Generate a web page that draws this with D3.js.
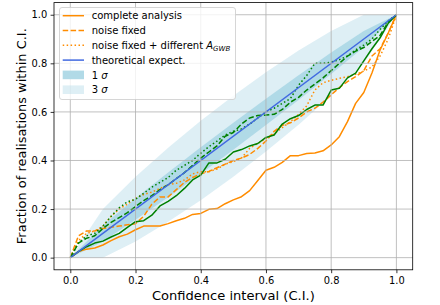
<!DOCTYPE html>
<html><head><meta charset="utf-8">
<script src="https://cdn.jsdelivr.net/npm/d3@7"></script>
<style>
body{margin:0;background:#fff}
svg{display:block}
text{font-family:"DejaVu Sans",sans-serif;fill:#000}
</style>
</head><body><svg id="c" width="440" height="305"></svg>
<script>
// ---- data ----
const ciLevels = [0,0.025,0.05,0.075,0.1,0.125,0.15,0.175,0.2,0.225,0.25,0.275,0.3,0.325,0.35,0.375,0.4,0.425,0.45,0.475,0.5,0.525,0.55,0.575,0.6,0.625,0.65,0.675,0.7,0.725,0.75,0.775,0.8,0.825,0.85,0.875,0.9,0.925,0.95,0.975,1];
const completeAnalysis = [0,0.025,0.035,0.04,0.052,0.07,0.086,0.097,0.115,0.13,0.13,0.13,0.14,0.152,0.162,0.178,0.182,0.199,0.202,0.222,0.238,0.251,0.276,0.318,0.36,0.372,0.392,0.42,0.42,0.429,0.431,0.44,0.464,0.498,0.56,0.635,0.68,0.76,0.855,0.925,1];
const noiseFixed = [0,0.09,0.11,0.11,0.12,0.125,0.13,0.135,0.14,0.17,0.22,0.25,0.25,0.28,0.31,0.33,0.345,0.355,0.37,0.385,0.4,0.41,0.425,0.45,0.48,0.52,0.545,0.555,0.575,0.6,0.615,0.64,0.67,0.7,0.725,0.745,0.77,0.83,0.86,0.925,1];
const noiseFixedDiffA = [0,0.07,0.1,0.11,0.13,0.17,0.2,0.22,0.245,0.26,0.27,0.285,0.3,0.306,0.32,0.345,0.354,0.354,0.365,0.385,0.395,0.41,0.45,0.47,0.49,0.51,0.535,0.56,0.59,0.625,0.69,0.72,0.73,0.738,0.745,0.755,0.768,0.785,0.83,0.9,1];
const greenSolid = [0,0.025,0.045,0.06,0.068,0.085,0.1,0.125,0.148,0.152,0.175,0.213,0.232,0.255,0.285,0.32,0.34,0.39,0.39,0.405,0.435,0.445,0.46,0.47,0.495,0.505,0.55,0.572,0.585,0.61,0.628,0.628,0.69,0.697,0.74,0.76,0.81,0.86,0.905,0.965,1];
const greenDashed = [0,0.06,0.08,0.09,0.12,0.145,0.165,0.185,0.21,0.235,0.255,0.28,0.3,0.325,0.35,0.38,0.41,0.435,0.46,0.5,0.515,0.55,0.575,0.585,0.587,0.59,0.61,0.64,0.66,0.69,0.715,0.74,0.77,0.8,0.83,0.85,0.865,0.89,0.915,0.97,1];
const greenDotted = [0,0.06,0.09,0.1,0.13,0.17,0.205,0.23,0.24,0.265,0.29,0.31,0.33,0.36,0.38,0.4,0.43,0.457,0.48,0.505,0.52,0.53,0.55,0.575,0.6,0.615,0.635,0.655,0.71,0.75,0.8,0.8,0.805,0.815,0.83,0.855,0.875,0.9,0.94,0.975,1];
const theoryX = [0,1];
const theoryY = [0,1];
const bandX = [0,0.1,0.2,0.3,0.4,0.5,0.6,0.7,0.8,0.9,1];
const sigma1Lo = [0,0.0667,0.1556,0.2491,0.3456,0.4444,0.5456,0.6491,0.7556,0.8667,1];
const sigma1Hi = [0,0.1333,0.2444,0.3509,0.4544,0.5556,0.6544,0.7509,0.8444,0.9333,1];
const sigma3Lo = [0,0,0.0667,0.1473,0.2367,0.3333,0.4367,0.5473,0.6667,0.8,1];
const sigma3Hi = [0,0.2,0.3333,0.4527,0.5633,0.6667,0.7633,0.8527,0.9333,1,1];
const tickValues = [0,0.2,0.4,0.6,0.8,1.0];

// ---- layout ----
const svg = d3.select("#c");
const L = 54, R = 412.7, T = 2.6, B = 269.8;
const x = d3.scaleLinear().domain([-0.05,1.05]).range([L,R]);
const y = d3.scaleLinear().domain([-0.05,1.05]).range([B,T]);
const ORANGE = "#ff8c00", GREEN = "#008000", BLUE = "#4169e1";
const lw = 1.5;

function fit(sel, target){
  const n = sel.node(); const fs = parseFloat(sel.attr("font-size"));
  const len = n.getComputedTextLength();
  if(len>0) sel.attr("font-size", (fs*target/len).toFixed(2)+"px");
}

svg.append("clipPath").attr("id","pc").append("rect")
  .attr("x",L).attr("y",T).attr("width",R-L).attr("height",B-T);
const plot = svg.append("g").attr("clip-path","url(#pc)");

// bands
const band = (lo,hi) => d3.area().x((d,i)=>x(bandX[i])).y0((d,i)=>y(lo[i])).y1((d,i)=>y(hi[i]))(bandX);
plot.append("path").attr("d",band(sigma3Lo,sigma3Hi)).attr("fill","#add8e6").attr("fill-opacity",0.4);
plot.append("path").attr("d",band(sigma1Lo,sigma1Hi)).attr("fill","#add8e6").attr("fill-opacity",0.95);

// grid
const grid = svg.append("g").attr("stroke","#b0b0b0").attr("stroke-width",0.8);
tickValues.forEach(t=>{
  grid.append("line").attr("x1",x(t)).attr("x2",x(t)).attr("y1",T).attr("y2",B);
  grid.append("line").attr("y1",y(t)).attr("y2",y(t)).attr("x1",L).attr("x2",R);
});

// curves
const line = d3.line().x((d,i)=>x(ciLevels[i])).y(d=>y(d));
function curve(vals,color,dash){
  const p = plot.append("path").attr("d",line(vals)).attr("fill","none")
    .attr("stroke",color).attr("stroke-width",lw).attr("stroke-linejoin","round");
  if(dash) p.attr("stroke-dasharray",dash);
  return p;
}
const DASH = "5.5,2.4", DOT = "1.5,2.45";
curve(completeAnalysis,ORANGE,null);
curve(noiseFixed,ORANGE,DASH);
curve(noiseFixedDiffA,ORANGE,DOT);
curve(greenSolid,GREEN,null);
curve(greenDashed,GREEN,DASH);
curve(greenDotted,GREEN,DOT);
plot.append("path").attr("d",d3.line().x((d,i)=>x(theoryX[i])).y(d=>y(d))(theoryY))
  .attr("fill","none").attr("stroke",BLUE).attr("stroke-width",lw);

// axes
const fmt = d3.format(".1f");
const xa = svg.append("g").attr("transform",`translate(0,${B})`)
  .call(d3.axisBottom(x).tickValues(tickValues).tickFormat(fmt).tickSize(3.4).tickPadding(3.4));
const ya = svg.append("g").attr("transform",`translate(${L},0)`)
  .call(d3.axisLeft(y).tickValues(tickValues).tickFormat(fmt).tickSize(3.4).tickPadding(3.4));
[xa,ya].forEach(a=>{
  a.select(".domain").remove();
  a.selectAll("line").attr("stroke","#000").attr("stroke-width",0.8);
  a.selectAll("text").attr("font-size","9.9px").attr("font-family","DejaVu Sans").attr("fill","#000");
});

// frame
svg.append("rect").attr("x",L).attr("y",T).attr("width",R-L).attr("height",B-T)
  .attr("fill","none").attr("stroke","#000").attr("stroke-width",0.8);

// axis labels
const xl = svg.append("text").attr("x",(L+R)/2).attr("y",299.5).attr("text-anchor","middle")
  .attr("font-size","13px").text("Confidence interval (C.I.)");
fit(xl,163);
const yl = svg.append("text").attr("transform",`translate(25.5,${(T+B)/2}) rotate(-90)`).attr("text-anchor","middle")
  .attr("font-size","13px").text("Fraction of realisations within C.I.");
fit(yl,216);

// legend
const lg = svg.append("g");
lg.append("rect").attr("x",59.5).attr("y",7.5).attr("width",176).attr("height",92).attr("rx",2.5)
  .attr("fill","#fff").attr("fill-opacity",0.8).attr("stroke","#cccccc").attr("stroke-width",0.8);
const rowsY = [15.7,30.5,45.3,60.1,74.9,89.7];
const hx0 = 62.7, hx1 = 84, tx = 91.7;
const legendItems = [
  {type:"line",color:ORANGE,dash:null,label:"complete analysis"},
  {type:"line",color:ORANGE,dash:DASH,label:"noise fixed"},
  {type:"line",color:ORANGE,dash:DOT,label:"math"},
  {type:"line",color:BLUE,dash:null,label:"theoretical expect."},
  {type:"patch",color:"#add8e6",op:0.95,label:"1"},
  {type:"patch",color:"#add8e6",op:0.4,label:"3"}
];
legendItems.forEach((it,i)=>{
  const cy = rowsY[i];
  if(it.type==="line"){
    const l = lg.append("line").attr("x1",hx0).attr("x2",hx1).attr("y1",cy).attr("y2",cy)
      .attr("stroke",it.color).attr("stroke-width",lw);
    if(it.dash) l.attr("stroke-dasharray",it.dash);
  } else {
    lg.append("rect").attr("x",hx0).attr("y",cy-4.3).attr("width",hx1-hx0).attr("height",8.6)
      .attr("fill",it.color).attr("fill-opacity",it.op);
  }
  const t = lg.append("text").attr("x",tx).attr("y",cy+3.6).attr("font-size","10px");
  if(it.label==="math"){
    t.append("tspan").text("noise fixed + different ");
    t.append("tspan").attr("font-style","italic").text("A");
    t.append("tspan").attr("font-style","italic").attr("font-size","0.7em").attr("dy",2).text("GWB");
  } else if(it.label==="1"||it.label==="3"){
    t.append("tspan").text(it.label+" ");
    t.append("tspan").attr("font-style","italic").text("σ");
  } else t.text(it.label);
});
</script>
</body></html>
